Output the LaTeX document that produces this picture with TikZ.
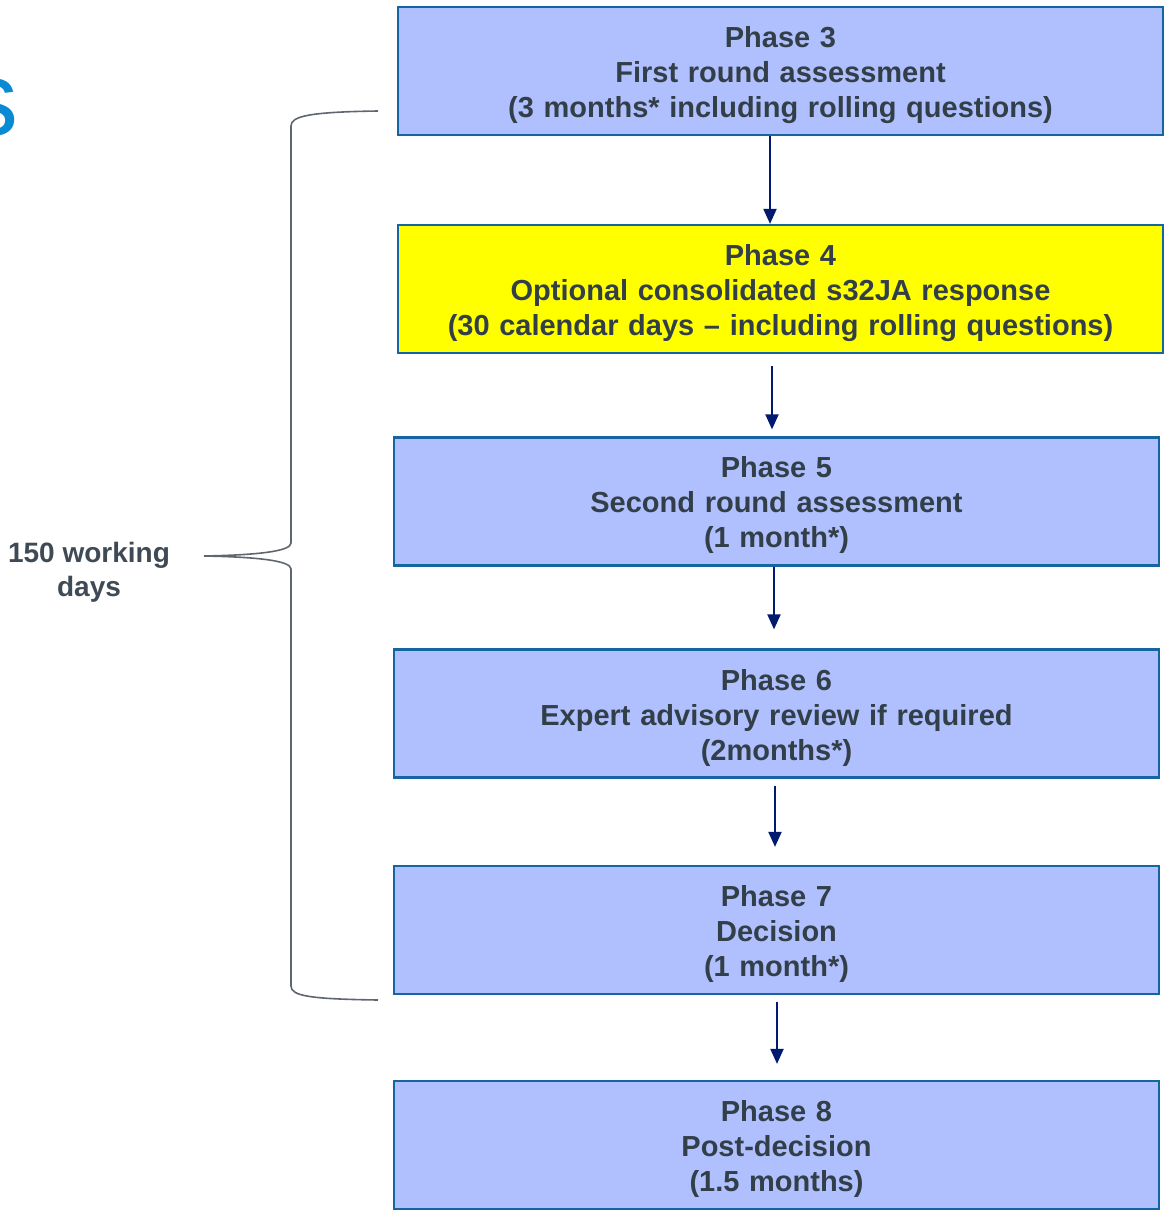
\documentclass[tikz,border=0pt]{standalone}
\usepackage{fontspec}
\setmainfont{Liberation Sans}
\usetikzlibrary{arrows.meta,calc}
\definecolor{boxfill}{HTML}{B0C0FF}
\definecolor{boxline}{HTML}{1565A0}
\definecolor{hiyellow}{HTML}{FFFF00}
\definecolor{txt}{HTML}{333F48}
\definecolor{arr}{HTML}{001A70}
\definecolor{bracec}{HTML}{5F6670}
\definecolor{titleblue}{HTML}{0A8AD2}
\definecolor{lblc}{HTML}{3F4A55}
\begin{document}
\begin{tikzpicture}[x=1pt,y=-1pt,
 phase/.style={draw=boxline, line width=2.2pt, fill=boxfill, minimum width=765pt, minimum height=128pt, text width=760pt, align=center, font=\fontsize{29}{35}\selectfont\bfseries, text=txt, inner sep=0pt, execute at begin node={\rule{0pt}{29pt}}},
 yellowphase/.style={phase, fill=hiyellow},
 flow/.style={draw=arr, line width=2pt, -{Triangle[length=15pt,width=13pt]}},
 bracestyle/.style={draw=bracec, line width=1.6pt},
]
\useasboundingbox (0,0) rectangle (1166,1210);
\node[anchor=base east, text=titleblue, font=\fontsize{106}{110}\selectfont, inner sep=0pt] (ttl) at (19,135) {s};

\node[phase] (p3) at (780.5,71) {Phase 3\\First round assessment\\(3 months* including rolling questions)};
\node[yellowphase] (p4) at (780.5,289) {Phase 4\\Optional consolidated s32JA response\\(30 calendar days -- including rolling questions)};
\node[phase] (p5) at (776.5,501.5) {Phase 5\\Second round assessment\\(1 month*)};
\node[phase] (p6) at (776.5,713.5) {Phase 6\\Expert advisory review if required\\(2months*)};
\node[phase] (p7) at (776.5,930) {Phase 7\\Decision\\(1 month*)};
\node[phase] (p8) at (776.5,1145) {Phase 8\\Post-decision\\(1.5 months)};

\coordinate (xa) at (770,0);
\coordinate (xb) at (772,0);
\coordinate (xc) at (774,0);
\coordinate (xd) at (775,0);
\coordinate (xe) at (777,0);
\draw[flow] (p3.south -| xa) -- (p4.north -| xa);
\draw[flow, shorten <=12pt, shorten >=7pt] (p4.south -| xb) -- (p5.north -| xb);
\draw[flow, shorten >=19pt] (p5.south -| xc) -- (p6.north -| xc);
\draw[flow, shorten <=7pt, shorten >=18pt] (p6.south -| xd) -- (p7.north -| xd);
\draw[flow, shorten <=7pt, shorten >=16pt] (p7.south -| xe) -- (p8.north -| xe);

\coordinate (btop) at (378,111);
\coordinate (bbot) at (378,1000);
\coordinate (btip) at (204,556);
\draw[bracestyle] (btop) .. controls (310,112) and (291,116) .. (291,126) -- (291,543)
  .. controls (291,551) and (260,555) .. (btip)
  .. controls (260,557) and (291,561) .. (291,569) -- (291,986)
  .. controls (291,996) and (310,999) .. (bbot);
\node[font=\fontsize{28}{34}\selectfont\bfseries, text=lblc, align=center, inner sep=0pt] (lbl) at (89,572) {150 working\\days};
\end{tikzpicture}
\end{document}
